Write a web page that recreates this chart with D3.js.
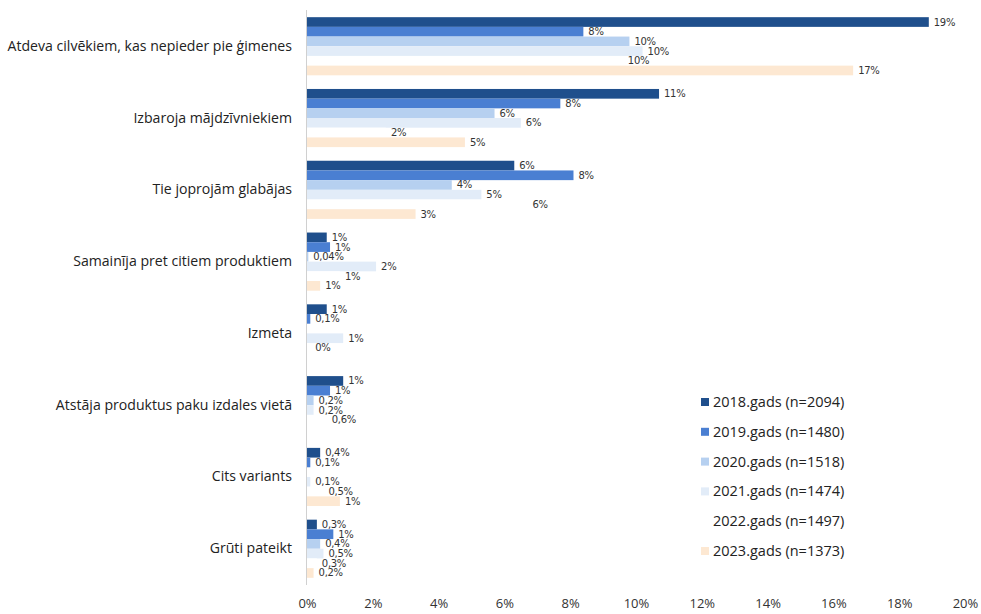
<!DOCTYPE html>
<html>
<head>
<meta charset="utf-8">
<script src="https://cdnjs.cloudflare.com/ajax/libs/d3/7.8.5/d3.min.js"></script>
<style>
	body { margin: 0; background: #fff; }
	svg { font-family: "Open Sans", "Liberation Sans", Arial, sans-serif; }
</style>
</head>
<body>
<svg id="svg_main" width="981" height="614"></svg>
<script>
const categories = [
	"Atdeva cilvēkiem, kas nepieder pie ģimenes",
	"Izbaroja mājdzīvniekiem",
	"Tie joprojām glabājas",
	"Samainīja pret citiem produktiem",
	"Izmeta",
	"Atstāja produktus paku izdales vietā",
	"Cits variants",
	"Grūti pateikt"
];

const series = ["2018", "2019", "2020", "2021", "2022", "2023"];
const legendNames = [
	"2018.gads (n=2094)",
	"2019.gads (n=1480)",
	"2020.gads (n=1518)",
	"2021.gads (n=1474)",
	"2022.gads (n=1497)",
	"2023.gads (n=1373)"
];

// values per series, in order of categories (null = no bar)
const v2018 = [18.9, 10.7, 6.3, 0.6, 0.6, 1.1, 0.4, 0.3];
const v2019 = [8.4, 7.7, 8.1, 0.7, 0.1, 0.7, 0.1, 0.8];
const v2020 = [9.8, 5.7, 4.4, 0.04, null, 0.2, null, 0.4];
const v2021 = [10.2, 6.5, 5.3, 2.1, 1.1, 0.2, 0.1, 0.5];
const v2022 = [9.6, 2.4, 6.7, 1.0, 0.1, 0.6, 0.5, 0.3];
const v2023 = [16.6, 4.8, 3.3, 0.4, null, null, 1.0, 0.2];

const l2018 = ["19%", "11%", "6%", "1%", "1%", "1%", "0,4%", "0,3%"];
const l2019 = ["8%", "8%", "8%", "1%", "0,1%", "1%", "0,1%", "1%"];
const l2020 = ["10%", "6%", "4%", "0,04%", null, "0,2%", null, "0,4%"];
const l2021 = ["10%", "6%", "5%", "2%", "1%", "0,2%", "0,1%", "0,5%"];
const l2022 = ["10%", "2%", "6%", "1%", "0%", "0,6%", "0,5%", "0,3%"];
const l2023 = ["17%", "5%", "3%", "1%", null, null, "1%", "0,2%"];

const xTicks = [0, 2, 4, 6, 8, 10, 12, 14, 16, 18, 20];

const values = [v2018, v2019, v2020, v2021, v2022, v2023];
const labelsText = [l2018, l2019, l2020, l2021, l2022, l2023];
const colors = ["#1f4f8c", "#4a7fd2", "#b6d0f0", "#e2ecf8", "#ffffff", "#fde8d2"];

var svg = d3.select("#svg_main");

var x = d3.scaleLinear().domain([0, 20]).range([307, 965]);
var y = d3.scaleBand().domain(categories).range([10, 585]).paddingInner(0.19).paddingOuter(0.1);
var ySub = d3.scaleBand().domain(series).range([0, y.bandwidth()]);

// vertical axis line
svg.append("line")
	.attr("x1", x(0) - 0.5).attr("x2", x(0) - 0.5)
	.attr("y1", 10).attr("y2", 585)
	.attr("stroke", "#d0d0d0")
	.attr("stroke-width", 1);

// bars
series.forEach((s, i) => {
	let rows = categories.map((c, j) => ({ cat: c, v: values[i][j], lab: labelsText[i][j] }))
		.filter(d => d.v !== null);

	svg.append("g")
		.attr("class", "series")
		.selectAll("rect")
		.data(rows)
		.enter().append("rect")
		.attr("x", x(0))
		.attr("y", d => y(d.cat) + ySub(s))
		.attr("width", d => Math.max(x(d.v) - x(0), 0.5))
		.attr("height", ySub.bandwidth())
		.attr("fill", colors[i]);

	svg.append("g")
		.attr("class", "vlabels")
		.selectAll("text")
		.data(rows.filter(d => d.lab))
		.enter().append("text")
		.attr("x", d => x(d.v) + 5)
		.attr("y", d => y(d.cat) + ySub(s) + ySub.bandwidth() / 2 + 3.5)
		.attr("font-size", "10px")
		.attr("font-family", "DejaVu Sans, sans-serif")
		.attr("letter-spacing", "-0.3px")
		.attr("fill", "#333")
		.text(d => d.lab);
});

// category labels
svg.append("g")
	.selectAll("text")
	.data(categories)
	.enter().append("text")
	.attr("x", 292)
	.attr("y", d => y(d) + y.bandwidth() / 2 + 4.5)
	.attr("text-anchor", "end")
	.attr("font-size", "14.1px")
	.attr("fill", "#222")
	.text(d => d);

// x axis ticks
var xAxis = d3.axisBottom(x).tickValues(xTicks).tickSize(0).tickFormat(d => d + "%");
svg.append("g")
	.attr("class", "xAxis")
	.attr("transform", "translate(0, 596)")
	.call(xAxis)
	.call(g => g.select(".domain").remove())
	.call(g => g.selectAll("text")
		.attr("font-size", "13px")
		.attr("font-family", "Open Sans, Liberation Sans, Arial, sans-serif")
		.attr("fill", "#333"));

// legend
var legend = svg.append("g").attr("class", "legend");
legendNames.forEach((name, i) => {
	let ly = 402 + i * 29.8;
	legend.append("rect")
		.attr("x", 701)
		.attr("y", ly - 4)
		.attr("width", 8)
		.attr("height", 8)
		.attr("fill", colors[i]);
	legend.append("text")
		.attr("x", 713)
		.attr("y", ly + 5)
		.attr("font-size", "14.5px")
		.attr("fill", "#222")
		.text(name);
});
</script>
</body>
</html>
